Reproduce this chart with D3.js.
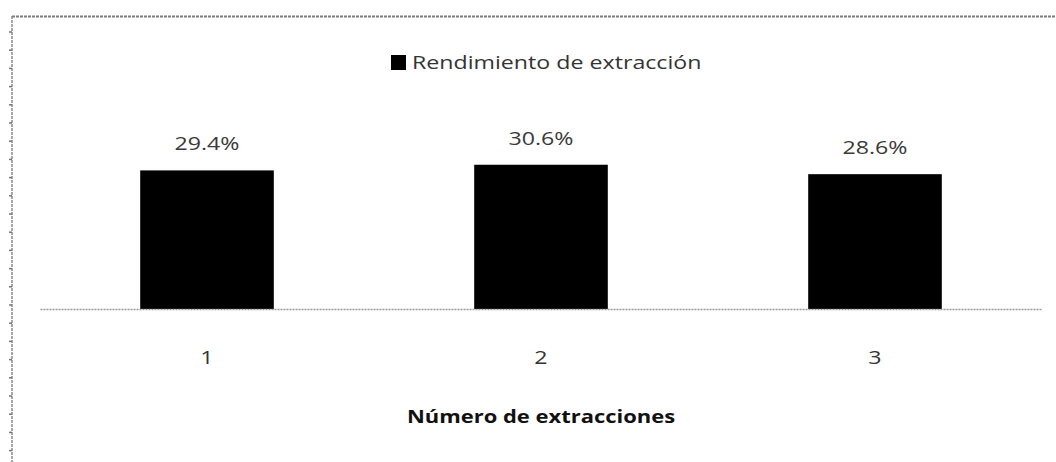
<!DOCTYPE html>
<html>
<head>
<meta charset="utf-8">
<script src="https://cdn.jsdelivr.net/npm/d3@7"></script>
<style>
  html, body { margin: 0; padding: 0; background: #fff; }
  svg { display: block; }
  text { font-family: "Open Sans", "Noto Sans", sans-serif; }
</style>
</head>
<body>
<svg id="chart" width="1056" height="462"></svg>
<script>
// Extraction yield per extraction number
const categories = ["1", "2", "3"];
const yieldValues = [29.4, 30.6, 28.6];
const valueLabels = ["29.4%", "30.6%", "28.6%"];
const seriesName = "Rendimiento de extracción";
const xTitle = "Número de extracciones";

const W = 1056, H = 462;
const plot = { left: 40, right: 1042, top: 144, bottom: 309 };
const stretch = 1.22; // wide lettering

const svg = d3.select("#chart");

// Chart-area frame (only top and left edges fall inside the view)
const frame = svg.append("g");
frame.append("line")
  .attr("x1", 12).attr("x2", W).attr("y1", 16.5).attr("y2", 16.5)
  .attr("stroke", "#7a7a7a").attr("stroke-width", 2)
  .attr("stroke-dasharray", "3,1");
frame.append("line")
  .attr("x1", 12).attr("x2", 12).attr("y1", 16).attr("y2", H)
  .attr("stroke", "#8a8a8a").attr("stroke-width", 1.5)
  .attr("stroke-dasharray", "3,1");
d3.range(32, H, 18.2).forEach(y => {
  frame.append("line")
    .attr("x1", 9).attr("x2", 12).attr("y1", y).attr("y2", y)
    .attr("stroke", "#777").attr("stroke-width", 1.5);
});

const x = d3.scaleBand()
  .domain(categories)
  .range([plot.left, plot.right])
  .paddingInner(0.6)
  .paddingOuter(0.3);

const y = d3.scaleLinear()
  .domain([0, 35])
  .range([plot.bottom, plot.top]);

// Bars
svg.append("g").selectAll("rect")
  .data(categories)
  .join("rect")
  .attr("x", d => x(d))
  .attr("width", x.bandwidth())
  .attr("y", (d, i) => y(yieldValues[i]))
  .attr("height", (d, i) => y(0) - y(yieldValues[i]))
  .attr("fill", "#000");

// Baseline / category axis
const xAxis = svg.append("g")
  .attr("transform", `translate(0,${plot.bottom})`)
  .call(d3.axisBottom(x).tickSize(0).tickPadding(0));
xAxis.select(".domain")
  .attr("stroke", "#9a9a9a").attr("stroke-width", 1.5)
  .attr("stroke-dasharray", "2,1");
xAxis.selectAll(".tick text")
  .attr("dy", null)
  .attr("y", null)
  .attr("transform", `translate(0,55) scale(${stretch},1)`)
  .attr("font-size", 19)
  .attr("fill", "#333")
  .attr("font-family", "Open Sans, sans-serif");

// Value labels above bars
svg.append("g").selectAll("text")
  .data(categories)
  .join("text")
  .attr("transform", (d, i) =>
    `translate(${x(d) + x.bandwidth() / 2},${y(yieldValues[i]) - 20}) scale(${stretch},1)`)
  .attr("text-anchor", "middle")
  .attr("font-size", 19)
  .attr("fill", "#3a3a3a")
  .text((d, i) => valueLabels[i]);

// Legend
const legend = svg.append("g");
legend.append("rect")
  .attr("x", 391).attr("y", 55).attr("width", 15).attr("height", 15)
  .attr("fill", "#000");
legend.append("text")
  .attr("transform", `translate(412,69) scale(${stretch},1)`)
  .attr("font-size", 19)
  .attr("fill", "#333")
  .text(seriesName);

// Axis title
svg.append("text")
  .attr("transform", `translate(${(plot.left + plot.right) / 2},423) scale(${stretch},1)`)
  .attr("text-anchor", "middle")
  .attr("font-size", 18)
  .attr("font-weight", "bold")
  .attr("fill", "#111")
  .text(xTitle);
</script>
</body>
</html>
